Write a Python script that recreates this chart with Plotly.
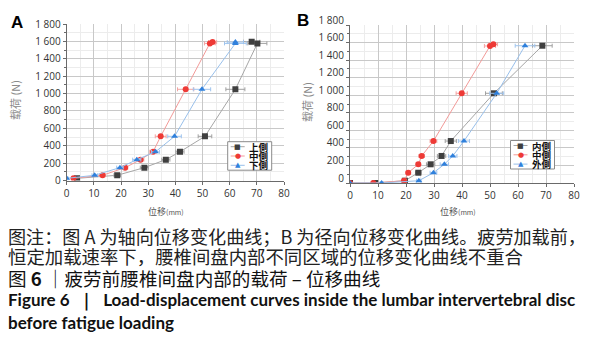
import plotly.graph_objects as go

W, H = 593, 345

# ---------------- data ----------------
# Panel A (axial displacement)
a_upper_x = [3.8, 18.6, 28.6, 36.5, 41.7, 50.9, 62.1, 70.2, 68.1]
a_upper_y = [25, 60, 148, 240, 330, 508, 1049, 1577, 1596]
a_upper_err = [0.8, 1.2, 1.5, 1.5, 1.5, 2.5, 3.5, 3.5, 3.0]

a_mid_x = [2.5, 13.2, 21.5, 27.2, 31.8, 34.6, 43.8, 52.7, 53.7]
a_mid_y = [25, 60, 148, 240, 330, 508, 1049, 1577, 1592]
a_mid_err = [0.5, 1.0, 1.0, 1.2, 1.2, 2.0, 3.0, 2.0, 1.5]

a_low_x = [0.0, 10.3, 19.6, 25.8, 32.7, 39.7, 49.8, 62.1, 62.1]
a_low_y = [25, 60, 148, 240, 330, 508, 1049, 1577, 1592]
a_low_err = [0.5, 1.0, 1.2, 1.5, 1.5, 2.5, 3.2, 4.0, 3.0]

# Panel B (radial displacement)
b_inner_x = [0.0, 9.0, 19.6, 24.4, 28.8, 32.7, 36.0, 51.4, 68.7]
b_inner_y = [0, 0, 26, 117, 213, 308, 478, 1022, 1564]
b_inner_err = [0.0, 0.5, 0.8, 1.0, 1.5, 1.5, 2.0, 3.0, 3.5]

b_mid_x = [0.0, 8.3, 19.3, 20.8, 24.4, 25.6, 29.8, 39.9, 50.0, 51.2]
b_mid_y = [0, 0, 26, 117, 213, 308, 478, 1022, 1561, 1580]
b_mid_err = [0.0, 0.5, 0.8, 0.8, 0.8, 1.0, 1.2, 2.0, 2.0, 1.5]

b_outer_x = [0.0, 11.3, 24.6, 29.8, 33.7, 36.7, 40.7, 52.4, 62.5]
b_outer_y = [0, 0, 26, 117, 213, 308, 478, 1022, 1564]
b_outer_err = [0.0, 0.5, 0.8, 1.2, 1.5, 1.5, 2.0, 2.5, 3.5]

legend_a = ["上側", "中側", "下側"]
legend_b = ["内側", "中側", "外側"]

x_ticks = [0, 10, 20, 30, 40, 50, 60, 70, 80]
y_ticks = [0, 200, 400, 600, 800, 1000, 1200, 1400, 1600, 1800]

# ---------------- styles ----------------
GRAY = dict(marker="#3f3f3f", line="#a6a6a6", err="#a0a0a0", symbol="square")
RED = dict(marker="#ee3a36", line="#f29a98", err="#f3a3a1", symbol="circle")
BLUE = dict(marker="#2f80dc", line="#98bfea", err="#9fc4ee", symbol="triangle-up")


def px2x(px):
    return px / W


def px2y(py):
    return 1 - py / H


fig = go.Figure()


def add_series(x, y, err, st, xa, ya, name):
    fig.add_trace(go.Scatter(
        x=x, y=y, mode="lines+markers", name=name, xaxis=xa, yaxis=ya,
        line=dict(color=st["line"], width=1),
        marker=dict(color=st["marker"], symbol=st["symbol"], size=6),
        error_x=dict(type="data", array=err, color=st["err"], thickness=1, width=2),
        showlegend=False,
    ))


add_series(a_upper_x, a_upper_y, a_upper_err, GRAY, "x", "y", legend_a[0])
add_series(a_mid_x, a_mid_y, a_mid_err, RED, "x", "y", legend_a[1])
add_series(a_low_x, a_low_y, a_low_err, BLUE, "x", "y", legend_a[2])

add_series(b_inner_x, b_inner_y, b_inner_err, GRAY, "x2", "y2", legend_b[0])
add_series(b_mid_x, b_mid_y, b_mid_err, RED, "x2", "y2", legend_b[1])
add_series(b_outer_x, b_outer_y, b_outer_err, BLUE, "x2", "y2", legend_b[2])

TICKFONT = dict(family="Open Sans", size=10, color="#333333")

xcommon = dict(range=[0, 80], tickvals=x_ticks, showgrid=True, gridcolor="#c8c8c8",
               gridwidth=1, showline=True, linecolor="#6a6a6a", linewidth=1,
               ticks="outside", ticklen=3, tickcolor="#6a6a6a", zeroline=False,
               tickfont=TICKFONT, automargin=False,
               minor=dict(dtick=5, showgrid=True, gridcolor="#ececec", gridwidth=1))
ycommon = dict(range=[0, 1800], tickvals=y_ticks, tickformat=",d", showgrid=True,
               gridcolor="#c8c8c8", gridwidth=1, showline=True, linecolor="#6a6a6a",
               linewidth=1, ticks="outside", ticklen=3, tickcolor="#6a6a6a",
               zeroline=False, tickfont=TICKFONT, automargin=False,
               minor=dict(dtick=100, showgrid=True, gridcolor="#ececec", gridwidth=1,
                          ticks="outside", ticklen=2, tickcolor="#6a6a6a"))

fig.update_layout(
    width=W, height=H, margin=dict(l=0, r=0, t=0, b=0, pad=0, autoexpand=False),
    paper_bgcolor="white", plot_bgcolor="white",
    separators=". ",
    xaxis=dict(domain=[px2x(66.7), px2x(284)], anchor="y", **xcommon),
    yaxis=dict(domain=[px2y(180.5), px2y(24)], anchor="x", **ycommon),
    xaxis2=dict(domain=[px2x(350), px2x(574)], anchor="y2", **xcommon),
    yaxis2=dict(domain=[px2y(183), px2y(25)], anchor="x2", ticklabelshift=-5, **ycommon),
)

ann = []
shapes = []


def text(x, y, s, size, color="#000000", family="Noto Sans CJK SC", xanchor="left", **kw):
    ann.append(dict(x=px2x(x), y=px2y(y), xref="paper", yref="paper", text=s,
                    showarrow=False, xanchor=xanchor, yanchor="middle",
                    font=dict(size=size, color=color, family=family), **kw))


# panel letters
text(9, 22, "<b>A</b>", 17, family="Liberation Sans")
text(295, 20, "<b>B</b>", 17, family="Liberation Sans")

# y-axis titles
text(15, 100, "载荷 (N)", 11, color="#8a8a8a", xanchor="center", textangle=-90)
text(307, 102, "载荷 (N)", 11, color="#8a8a8a", xanchor="center", textangle=-90)

# x-axis titles
text(166, 211, "位移<span style='font-size:7px'>(mm)</span>", 9, color="#555555", xanchor="center")
text(458, 211, "位移<span style='font-size:7px'>(mm)</span>", 9, color="#555555", xanchor="center")


# legends
def legend(x0, y0, labels):
    x1, y1 = x0 + 44, y0 + 28.5
    shapes.append(dict(type="rect", xref="paper", yref="paper",
                       x0=px2x(x0), x1=px2x(x1), y0=px2y(y0), y1=px2y(y1),
                       line=dict(color="#8a8a8a", width=1), fillcolor="white"))
    for i, (lab, st) in enumerate(zip(labels, [GRAY, RED, BLUE])):
        yy = y0 + 5 + i * 9.3
        shapes.append(dict(type="line", xref="paper", yref="paper",
                           x0=px2x(x0 + 3), x1=px2x(x0 + 17), y0=px2y(yy), y1=px2y(yy),
                           line=dict(color=st["line"], width=1)))
        glyph = {"square": "■", "circle": "●", "triangle-up": "▲"}[st["symbol"]]
        text(x0 + 10, yy, glyph, 7, color=st["marker"], family="DejaVu Sans", xanchor="center")
        text(x0 + 19, yy, "<b>" + lab + "</b>", 9.5, color="#111111", family="Noto Sans CJK TC")


legend(227.7, 141.7, legend_a)
legend(510.5, 140.5, legend_b)

# caption
CAP = "Noto Sans CJK SC"
text(6, 236, "图注：图 A 为轴向位移变化曲线；B 为径向位移变化曲线。疲劳加载前，", 18.1, color="#222222", family=CAP)
text(6, 256, "恒定加载速率下，腰椎间盘内部不同区域的位移变化曲线不重合", 18.4, color="#222222", family=CAP)
text(6, 277, "图 <b>6</b> ｜疲劳前腰椎间盘内部的载荷 – 位移曲线", 18.6, color="#111111", family=CAP)
text(6, 300, "<b>Figure 6  ｜  Load-displacement curves inside the lumbar intervertebral disc</b>", 17,
     color="#111111", family="Lato")
text(6, 322, "<b>before fatigue loading</b>", 17, color="#111111", family="Lato")

fig.update_layout(annotations=ann, shapes=shapes)

fig.write_html(
    "out.html",
    config={"displayModeBar": False},
    post_script="document.body.style.margin='0px';document.body.style.padding='0px';"
                "document.body.style.overflow='hidden';",
)
